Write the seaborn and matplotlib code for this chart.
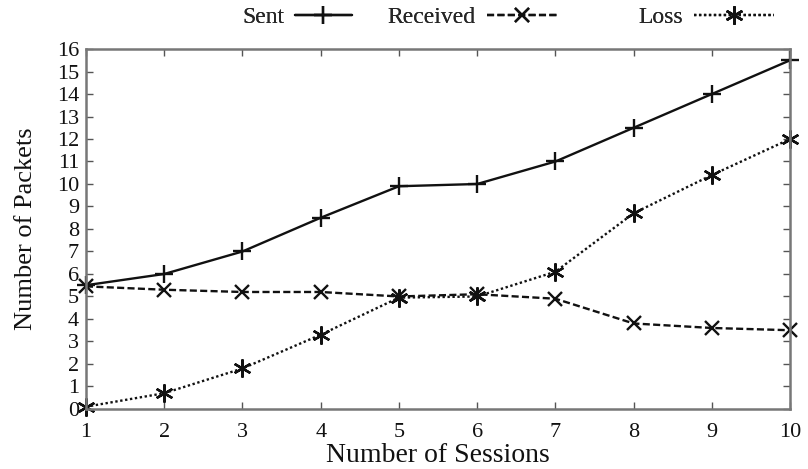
import matplotlib
matplotlib.use("Agg")
import matplotlib.pyplot as plt
import seaborn as sns
import pandas as pd

sessions = [1, 2, 3, 4, 5, 6, 7, 8, 9, 10]
sent = [5.5, 6.0, 7.0, 8.5, 9.9, 10.0, 11.0, 12.5, 14.0, 15.5]
received = [5.45, 5.3, 5.2, 5.2, 5.0, 5.1, 4.9, 3.8, 3.6, 3.5]
loss = [0.1, 0.7, 1.8, 3.3, 4.95, 5.0, 6.1, 8.7, 10.4, 12.0]
y_ticks = list(range(0, 17))
series_names = ["Sent", "Received", "Loss"]

sns.set_theme(style="white")
plt.rcParams["font.family"] = ["Liberation Serif", "DejaVu Serif"]

df = pd.DataFrame({
    "Sessions": sessions * 3,
    "Packets": sent + received + loss,
    "Series": ["Sent"] * 10 + ["Received"] * 10 + ["Loss"] * 10,
})

fig = plt.figure(figsize=(8.08, 4.69), dpi=100)
ax = fig.add_axes([0.1064, 0.128, 0.8715, 0.7675])

styles = {
    "Sent": dict(marker="+", dashes=None, ms=13),
    "Received": dict(marker="x", dashes=(3, 1.4), ms=10),
    "Loss": dict(marker=(6, 2, 0), dashes=(1, 1.1), ms=13),
}
for name in series_names:
    st = styles[name]
    sub = df[df["Series"] == name]
    sns.lineplot(data=sub, x="Sessions", y="Packets", ax=ax, color="#111111",
                 linewidth=1.7, marker=st["marker"], markersize=st["ms"],
                 markeredgewidth=1.7, markeredgecolor="#111111", label=name)
    line = ax.get_lines()[-1]
    line.set_clip_on(False)
    if st["dashes"] is not None:
        line.set_dashes(st["dashes"])

ax.set_xlim(1, 10)
ax.set_ylim(0, 16)
ax.set_xticks(sessions)
ax.set_yticks(y_ticks)
ax.tick_params(direction="in", length=5, width=1.0, color="#555555",
               labelsize=16, top=True, right=True, bottom=True, left=True,
               labelcolor="#111111")
ax.tick_params(axis="x", pad=10)
ax.tick_params(axis="y", pad=5)
for s in ax.spines.values():
    s.set_color("#777777")
    s.set_linewidth(1.8)
ax.set_xlabel("Number of Sessions", fontsize=20, color="#111111", labelpad=1)
ax.set_ylabel("Number of Packets", fontsize=19, color="#111111", labelpad=14)

handles, labels = ax.get_legend_handles_labels()
ax.get_legend().remove()

# one legend entry per series, laid out across the top
anchors = {"Sent": 0.300, "Received": 0.480, "Loss": 0.790}
hlens = {"Sent": 2.4, "Received": 3.0, "Loss": 3.4}
for h, lab in zip(handles, labels):
    leg = fig.legend([h], [lab], loc="center left",
                     bbox_to_anchor=(anchors[lab], 0.963), frameon=False,
                     markerfirst=False, fontsize=17, handlelength=hlens[lab],
                     handletextpad=0.45, borderpad=0, borderaxespad=0)
    fig.add_artist(leg)

fig.savefig("out.png", dpi=100)
